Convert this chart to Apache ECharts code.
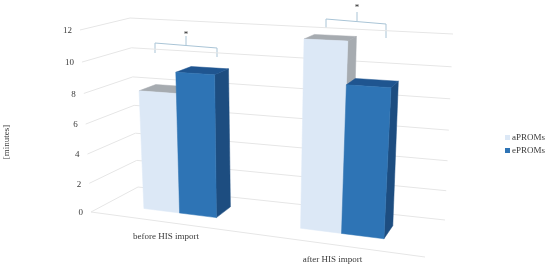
<!DOCTYPE html>
<html>
<head>
<meta charset="utf-8">
<style>
  html, body { margin: 0; padding: 0; background: #fff; }
  #chart { width: 550px; height: 268px; }
</style>
<script src="https://cdn.jsdelivr.net/npm/echarts@6/dist/echarts.min.js"></script>
</head>
<body>
<div id="chart"></div>
<script>
const categories = ['before HIS import', 'after HIS import']
const yTicks = [0, 2, 4, 6, 8, 10, 12]
const aproms = [8.0, 11.8]
const eproms = [9.35, 9.25]

const FONT = '9px "Liberation Serif", serif'
const TEXT = '#3a3a3a'
const GRID_LINE = '#e6e6e6'

// corners of the 3d box on screen: floor (0) and top (12), front and back
const box = {
  fl0: [91, 212], fr0: [425, 257], bl0: [138, 187], br0: [445, 220],
  fl1: [80, 30], fr1: [440, 46], bl1: [130, 18], br1: [453, 34],
}
const warp = (t, r) => t / (t + (1 - t) * r)
const mix = (a, b, t) => [a[0] + (b[0] - a[0]) * t, a[1] + (b[1] - a[1]) * t]

// px, py come from api.coord, w is depth into the box (0 front, 1 back)
function project (params, pt, w) {
  const c = params.coordSys
  const u = warp((pt[0] - c.x) / c.width, 1.15)
  const v = warp((c.y + c.height - pt[1]) / c.height, 1.07)
  const floor = mix(mix(box.fl0, box.fr0, u), mix(box.bl0, box.br0, u), w)
  const top = mix(mix(box.fl1, box.fr1, u), mix(box.bl1, box.br1, u), w)
  return mix(floor, top, v)
}

function renderTick (params, api) {
  const c = params.coordSys
  const v = api.value(0)
  const y = api.coord([0, v])[1]
  const left = [c.x, y]
  const right = [c.x + c.width, y]
  const a = project(params, left, 0)
  const b = project(params, left, 1)
  const d = project(params, right, 1)
  const lineStyle = { stroke: GRID_LINE, lineWidth: 1, fill: null }
  const children = [
    { type: 'polyline', shape: { points: [a, b, d] }, style: lineStyle },
    {
      type: 'text',
      style: { text: String(v), x: a[0] - 8, y: a[1] + 1, align: 'right', verticalAlign: 'middle', font: FONT, fill: TEXT },
    },
  ]
  if (v === 0) {
    children.push({ type: 'line', shape: { x1: a[0], y1: a[1], x2: project(params, right, 0)[0], y2: project(params, right, 0)[1] }, style: lineStyle })
  }
  return { type: 'group', children }
}

function renderCategory (params, api) {
  const i = api.value(0)
  const p = project(params, api.coord([i, 0]), 0)
  return {
    type: 'text',
    style: { text: categories[i], x: p[0], y: p[1] + 15, align: 'center', verticalAlign: 'middle', font: FONT, fill: TEXT },
  }
}

function barRenderer (offset, colors) {
  return function (params, api) {
    const i = api.value(0)
    const v = api.value(1)
    const band = api.size([1, 0])[0]
    const barW = band * 0.24
    const x0 = api.coord([i, 0])[0] + offset * barW
    const x1 = x0 + barW
    const y0 = api.coord([i, 0])[1]
    const y1 = api.coord([i, v])[1]
    const wFront = 0.33
    const wBack = 0.7
    const p = (x, y, w) => project(params, [x, y], w)
    const poly = (points, fill) => ({ type: 'polygon', shape: { points }, style: { fill, stroke: fill, lineWidth: 0.5 } })
    return {
      type: 'group',
      children: [
        poly([p(x1, y0, wFront), p(x1, y0, wBack), p(x1, y1, wBack), p(x1, y1, wFront)], colors.side),
        poly([p(x0, y1, wFront), p(x1, y1, wFront), p(x1, y1, wBack), p(x0, y1, wBack)], colors.top),
        poly([p(x0, y0, wFront), p(x1, y0, wFront), p(x1, y1, wFront), p(x0, y1, wFront)], colors.front),
      ],
    }
  }
}

const bracketStyle = { stroke: '#a9c4d6', lineWidth: 1, fill: null }
const chart = echarts.init(document.getElementById('chart'))
chart.setOption({
  animation: false,
  grid: { left: 0, right: 0, top: 0, bottom: 0 },
  xAxis: { type: 'category', data: categories, show: false },
  yAxis: { type: 'value', min: 0, max: 12, interval: 2, show: false },
  legend: {
    data: ['aPROMs', 'ePROMs'],
    orient: 'vertical',
    left: 505,
    top: 133,
    icon: 'rect',
    itemWidth: 5,
    itemHeight: 5,
    itemGap: 4,
    padding: 0,
    selectedMode: false,
    textStyle: { fontFamily: '"Liberation Serif", serif', fontSize: 9, color: TEXT, padding: [0, 0, 0, -3] },
  },
  graphic: [
    { type: 'text', x: 7, y: 142, rotation: Math.PI / 2, style: { text: '[minutes]', font: FONT, fill: TEXT, align: 'center', verticalAlign: 'middle' } },
    { type: 'polyline', shape: { points: [[155, 53], [155, 43], [217, 48], [217, 57]] }, style: bracketStyle },
    { type: 'line', shape: { x1: 186, y1: 45, x2: 186, y2: 36 }, style: bracketStyle },
    { type: 'text', x: 186, y: 35, style: { text: '*', font: FONT, fill: '#222', align: 'center', verticalAlign: 'middle' } },
    { type: 'polyline', shape: { points: [[326, 28], [326, 19], [386, 24], [386, 38]] }, style: bracketStyle },
    { type: 'line', shape: { x1: 357, y1: 21, x2: 357, y2: 12 }, style: bracketStyle },
    { type: 'text', x: 357, y: 8, style: { text: '*', font: FONT, fill: '#222', align: 'center', verticalAlign: 'middle' } },
  ],
  series: [
    { type: 'custom', silent: true, data: yTicks.map(v => [v]), encode: { y: 0 }, renderItem: renderTick },
    { type: 'custom', silent: true, data: categories.map((c, i) => [i]), encode: { x: 0 }, renderItem: renderCategory },
    {
      type: 'custom',
      name: 'aPROMs',
      silent: true,
      itemStyle: { color: '#dce8f6' },
      data: aproms.map((v, i) => [i, v]),
      encode: { x: 0, y: 1 },
      renderItem: barRenderer(-1, { front: '#dce8f6', top: '#a6abb0', side: '#a6abb0' }),
    },
    {
      type: 'custom',
      name: 'ePROMs',
      silent: true,
      itemStyle: { color: '#2e74b5' },
      data: eproms.map((v, i) => [i, v]),
      encode: { x: 0, y: 1 },
      renderItem: barRenderer(0, { front: '#2e74b5', top: '#1f5590', side: '#1d4d80' }),
    },
  ],
})
</script>
</body>
</html>
